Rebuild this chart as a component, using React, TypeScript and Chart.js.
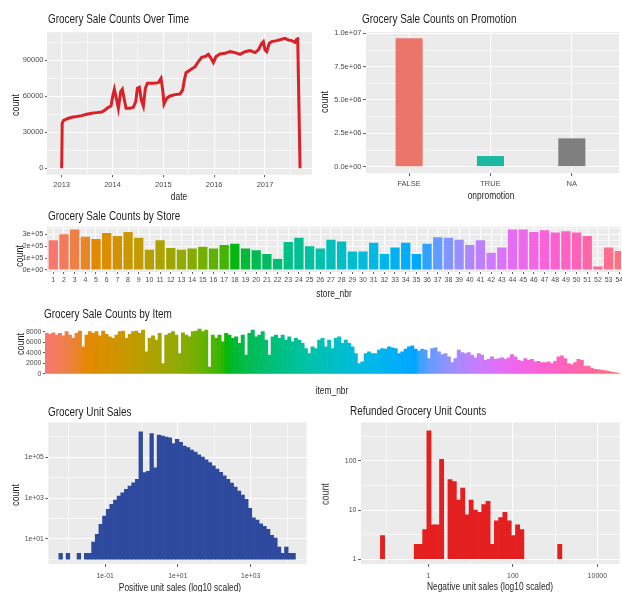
import React, { useEffect, useRef } from 'react';
import { Chart, registerables } from 'chart.js';

Chart.register(...registerables);

const FONT = "'Liberation Sans', Arial, Helvetica, sans-serif";
const TICK_COLOR = '#4D4D4D';
const PANEL_BG = '#EBEBEB';

// ---------------- data ----------------
// Panel 1: sale counts over time (decimal years)
const salesDates = [
  2013.0, 2013.01, 2013.033, 2013.098, 2013.197, 2013.295, 2013.393, 2013.492, 2013.59, 2013.689,
  2013.787, 2013.852, 2013.918, 2013.97, 2014.003, 2014.036, 2014.082, 2014.115, 2014.161, 2014.193,
  2014.233, 2014.266, 2014.344, 2014.41, 2014.456, 2014.489, 2014.528, 2014.567, 2014.607, 2014.646,
  2014.685, 2014.803, 2014.902, 2014.954, 2014.987, 2015.013, 2015.066, 2015.131, 2015.23, 2015.328,
  2015.38, 2015.413, 2015.446, 2015.525, 2015.623, 2015.689, 2015.754, 2015.82, 2015.885, 2015.938,
  2015.984, 2016.036, 2016.115, 2016.213, 2016.311, 2016.41, 2016.508, 2016.607, 2016.705, 2016.803,
  2016.869, 2016.934, 2016.967, 2017.0, 2017.033, 2017.085, 2017.131, 2017.23, 2017.328, 2017.393,
  2017.459, 2017.525, 2017.59, 2017.623, 2017.643, 2017.689,
];
const salesCounts = [
  0, 37500, 39700, 41100, 42500, 43100, 43900, 45000, 45800, 46400,
  46900, 48600, 50800, 51900, 59700, 65800, 56900, 50000, 63900, 65800,
  56900, 50000, 50000, 50800, 55600, 66700, 67500, 56900, 51900, 66700,
  70800, 70800, 71400, 75000, 65300, 53600, 58300, 60300, 61400, 61900,
  65300, 73600, 79700, 81900, 84700, 88900, 92500, 93100, 95000, 91700,
  88100, 93100, 95300, 95800, 97200, 96400, 95000, 97200, 98100, 96400,
  98600, 104200, 105600, 98600, 97200, 104200, 105600, 106400, 107500, 108300,
  106900, 106400, 105000, 107500, 107800, 0,
];
const yearTicks = [2013, 2014, 2015, 2016, 2017];
const yearMinor = [2013.5, 2014.5, 2015.5, 2016.5, 2017.5];
const salesYTicks = [0, 30000, 60000, 90000];
const salesYMinor = [15000, 45000, 75000, 105000];

// Panel 2: promotion
const promoCategories = ['FALSE', 'TRUE', 'NA'];
const promoCounts = [9625000, 800000, 2125000];
const promoColors = ['#EC756A', '#1CB8A2', '#7F7F7F'];
const promoYTicks = [0, 2500000, 5000000, 7500000, 10000000];
const promoYMinor = [1250000, 3750000, 6250000, 8750000];

// Panel 3: stores
const storeNumbers = [
  1, 2, 3, 4, 5, 6, 7, 8, 9, 10, 11, 12, 13, 14, 15, 16, 17, 18, 19, 20, 21, 22, 23, 24, 25, 26, 27,
  28, 29, 30, 31, 32, 33, 34, 35, 36, 37, 38, 39, 40, 41, 42, 43, 44, 45, 46, 47, 48, 49, 50, 51, 52, 53, 54,
];
const storeCounts = [
  250000, 300000, 340000, 280000, 260000, 310000, 285000, 320000, 270000, 170000,
  250000, 185000, 170000, 180000, 195000, 180000, 210000, 220000, 180000, 165000,
  135000, 95000, 235000, 270000, 200000, 180000, 255000, 240000, 155000, 155000,
  230000, 135000, 190000, 230000, 135000, 220000, 275000, 270000, 255000, 210000,
  250000, 145000, 190000, 340000, 340000, 320000, 335000, 315000, 325000, 315000,
  285000, 30000, 190000, 160000,
];
const storeYTicks = [0, 100000, 200000, 300000];
const storeYMinor = [50000, 150000, 250000, 350000];

// Panel 4: items (in item order, left to right)
const itemCounts = [
  7680, 7490, 7810, 7370, 7680, 7240, 8000, 7370, 6730, 7680,
  8130, 5140, 7370, 8000, 7680, 8000, 7240, 8130, 7490, 7050,
  6730, 7370, 8000, 8130, 6730, 7490, 8000, 8130, 7680, 8320,
  4190, 6730, 7240, 6410, 7680, 1970, 7370, 7680, 8000, 7370,
  3870, 7810, 7370, 7050, 8000, 8130, 8510, 8000, 8320, 1330,
  7370, 6730, 7370, 6100, 7680, 7370, 6730, 7050, 5780, 7370,
  3560, 7680, 8320, 7050, 7370, 8000, 6410, 3560, 7050, 7370,
  6730, 7370, 6410, 7050, 6100, 6730, 6410, 5780, 4830, 3870,
  5140, 4830, 6410, 6730, 5140, 6410, 4830,
  6730, 7050, 5780, 6410, 5780, 5140, 3870, 1970, 2290, 3870,
  4190, 3870, 3870, 4510, 4830, 4700, 5140, 4950, 4830, 3870,
  4190, 4700, 5140, 5330, 4700, 4320, 4700, 4510, 2920, 4830,
  4950, 4190, 3680, 3870, 3240, 2160, 2920, 4510, 4060, 3870,
  4060, 3560, 3050, 3870, 3560, 2600, 2790, 3240, 2790, 2920,
  3050, 2790, 3050, 3680, 3240, 2600, 2410, 2920, 2600, 2790,
  2290, 2410, 2160, 2160, 2290, 1970, 2410, 3240, 3430, 2920,
  1970, 1780, 2160, 2790, 2600, 1520, 1520, 1140, 890, 830,
  760, 640, 510, 380, 250, 130,
];
const itemYTicks = [0, 2000, 4000, 6000, 8000];

// Panel 5: positive unit sales histogram (log10 bins)
const unitBinStart = -2.27;
const unitBinWidth = 0.1;
const unitCounts = [
  2, null, 2, null, null, 2, null, 2, 2, 7,
  17, 52, 133, 283, 500, 810, 1270, 1850, 2700, 3900,
  5700, 8500, 1800000, 17800, 21000, 1450000, 31000, 1230000, 1100000, 1000000,
  920000, 470000, 770000, 550000, 360000, 300000, 230000, 180000, 135000, 105000,
  77000, 55000, 39000, 27000, 18400, 12600, 8300, 5500, 3500, 2240,
  1420, 870, 316, 110, 85, 56, 42, 30, 15, 11,
  4, 2, 4, 2, 2,
];
const unitXTicks = [-1, 1, 3];
const unitXMinor = [-2, 0, 2, 4];
const unitYTicks = [10, 1000, 100000];
const unitYMinor = [1, 100, 10000, 1000000];

// Panel 6: refunded unit counts histogram (log10 bins)
const refundBinStart = -1.14;
const refundBinWidth = 0.1;
const refundCounts = [
  3, null, null, null, null, null, null, null, 2, 2,
  4, 415, 5, 5, 108, null, 42, 38, 16, 28,
  8, 16, 10, 9, 13, 15, 2, 6, 7, 9,
  6, 3, 5, 4, null, null, null, null, null, null,
  null, null, 2,
];
const refundXTicks = [0, 2, 4];
const refundXMinor = [-1, 1, 3];
const refundYTicks = [1, 10, 100];
const refundYMinor = [3.1623, 31.623, 316.23];

// ---------------- helpers ----------------
function hclHex(h: number, c = 100, l = 65): string {
  const hr = (h * Math.PI) / 180;
  const u = c * Math.cos(hr);
  const v = c * Math.sin(hr);
  const Xn = 95.047, Yn = 100, Zn = 108.883;
  const den = Xn + 15 * Yn + 3 * Zn;
  const un = (4 * Xn) / den;
  const vn = (9 * Yn) / den;
  const Y = Yn * Math.pow((l + 16) / 116, 3);
  const up = u / (13 * l) + un;
  const vp = v / (13 * l) + vn;
  const X = (Y * 9 * up) / (4 * vp);
  const Z = (Y * (12 - 3 * up - 20 * vp)) / (4 * vp);
  const x = X / 100, y = Y / 100, z = Z / 100;
  const lin = [
    3.2406 * x - 1.5372 * y - 0.4986 * z,
    -0.9689 * x + 1.8758 * y + 0.0415 * z,
    0.0557 * x - 0.204 * y + 1.057 * z,
  ];
  return (
    '#' +
    lin
      .map((ch) => {
        let g = ch <= 0.0031308 ? 12.92 * ch : 1.055 * Math.pow(Math.max(ch, 0), 1 / 2.4) - 0.055;
        g = Math.min(1, Math.max(0, g));
        return Math.round(g * 255).toString(16).padStart(2, '0');
      })
      .join('')
  );
}
function huePalette(n: number): string[] {
  const out: string[] = [];
  for (let i = 0; i < n; i++) out.push(hclHex(15 + (360 * i) / n));
  return out;
}
function sci(v: number, digits: number): string {
  const [m, e] = v.toExponential(digits).split('e');
  const sign = e[0];
  return m + 'e' + sign + e.slice(1).padStart(2, '0');
}
function pow10Label(v: number): string {
  const e = Math.round(v);
  return '1e' + (e < 0 ? '-' : '+') + String(Math.abs(e)).padStart(2, '0');
}

const panelBg = {
  id: 'panelBg',
  beforeDraw(chart: any, _args: any, opts: any) {
    if (!opts || !opts.color) return;
    const a = chart.chartArea;
    const ctx = chart.ctx;
    ctx.save();
    ctx.fillStyle = opts.color;
    ctx.fillRect(a.left, a.top, a.right - a.left, a.bottom - a.top);
    ctx.restore();
  },
};

function axis(o: any) {
  const majors: number[] = o.majors;
  const all = [...majors, ...(o.minors || [])].sort((a, b) => a - b);
  const isMajor = (v: any) => majors.indexOf(v) >= 0;
  return {
    type: o.type || 'linear',
    min: o.min,
    max: o.max,
    offset: false,
    afterBuildTicks: (s: any) => {
      s.ticks = all.map((v) => ({ value: v }));
    },
    afterFit: (s: any) => {
      if (o.isY) s.width = o.size;
      else s.height = o.size;
    },
    ticks: {
      autoSkip: false,
      maxRotation: 0,
      minRotation: 0,
      padding: o.pad,
      color: TICK_COLOR,
      font: { family: FONT, size: o.font },
      callback: (v: any) => (isMajor(v) ? o.fmt(v) : ''),
    },
    grid: {
      display: true,
      offset: false,
      drawOnChartArea: o.gridOnArea !== false,
      color: '#FFFFFF',
      lineWidth: (c: any) => (c.tick && isMajor(c.tick.value) ? 1.1 : 0.55),
      drawTicks: true,
      tickLength: o.tickLen,
      tickColor: (c: any) => (c.tick && isMajor(c.tick.value) ? '#333333' : 'rgba(0,0,0,0)'),
      tickWidth: 0.8,
    },
    border: { display: false },
  };
}

function baseOptions(scales: any, bg: string | null) {
  return {
    animation: false,
    responsive: false,
    devicePixelRatio: 1,
    events: [],
    plugins: {
      legend: { display: false },
      tooltip: { enabled: false },
      title: { display: false },
      panelBg: { color: bg },
    },
    scales,
  };
}

type Rect = { l: number; t: number; r: number; b: number };

function PanelChart({ rect, yw, xh, build }: { rect: Rect; yw: number; xh: number; build: (s: { yw: number; xh: number }) => any }) {
  const ref = useRef<HTMLCanvasElement | null>(null);
  const left = Math.floor(rect.l - yw - 2);
  const top = Math.floor(rect.t - 7);
  const right = Math.ceil(rect.r + 10);
  const bottom = Math.ceil(rect.b + xh);
  const width = right - left;
  const height = bottom - top;
  const padL = rect.l - yw - left;
  const padT = rect.t - top;
  const padR = right - rect.r;
  const xhFit = bottom - rect.b;
  useEffect(() => {
    const cfg = build({ yw, xh: xhFit });
    cfg.options.layout = { padding: { left: padL, top: padT, right: padR, bottom: 0 } };
    cfg.plugins = [panelBg];
    const chart = new Chart(ref.current as HTMLCanvasElement, cfg);
    return () => chart.destroy();
  }, []);
  return (
    <canvas
      ref={ref}
      width={width}
      height={height}
      style={{ position: 'absolute', left, top, width, height }}
    />
  );
}

const TEXT_COLOR = '#1F1F1F';

function Title({ x, y, text }: { x: number; y: number; text: string }) {
  return (
    <div
      style={{
        position: 'absolute', left: x, top: y - 7.2, fontSize: 12, lineHeight: '14.4px',
        whiteSpace: 'nowrap', color: TEXT_COLOR, transform: 'scaleX(0.83)', transformOrigin: '0 50%',
      }}
    >
      {text}
    </div>
  );
}
function XTitle({ x, y, text }: { x: number; y: number; text: string }) {
  return (
    <div
      style={{
        position: 'absolute', left: x, top: y - 6.3, fontSize: 10.5, lineHeight: '12.6px',
        whiteSpace: 'nowrap', color: TEXT_COLOR, transform: 'translateX(-50%) scaleX(0.8)',
      }}
    >
      {text}
    </div>
  );
}
function YTitle({ x, y, text }: { x: number; y: number; text: string }) {
  return (
    <div
      style={{
        position: 'absolute', left: x, top: y, fontSize: 10.5, lineHeight: '12.6px',
        whiteSpace: 'nowrap', color: TEXT_COLOR,
        transform: 'translate(-50%, -50%) rotate(-90deg) scaleX(0.85)',
      }}
    >
      {text}
    </div>
  );
}

// ---------------- app ----------------
export default function App() {
  const YW = 42;
  return (
    <div
      style={{
        position: 'fixed', left: 0, top: 0, width: 622, height: 592, overflow: 'hidden',
        background: '#FFFFFF', fontFamily: FONT,
      }}
    >
      {/* Panel 1 */}
      <PanelChart
        rect={{ l: 47, t: 32.2, r: 312, b: 174.8 }}
        yw={YW}
        xh={16}
        build={({ yw, xh }) => ({
          type: 'line',
          data: {
            datasets: [
              {
                data: salesDates.map((d, i) => ({ x: d, y: salesCounts[i] })),
                borderColor: '#DA2128',
                borderWidth: 3,
                pointRadius: 0,
                tension: 0,
                fill: false,
              },
            ],
          },
          options: baseOptions(
            {
              x: axis({ min: 2012.711, max: 2017.924, majors: yearTicks, minors: yearMinor, fmt: (v: number) => String(v), font: 7.5, tickLen: 2.5, pad: 3.5, isY: false, size: xh }),
              y: axis({ min: -5417, max: 113417, majors: salesYTicks, minors: salesYMinor, fmt: (v: number) => String(v), font: 7.5, tickLen: 2, pad: 1.5, isY: true, size: yw }),
            },
            PANEL_BG
          ),
        })}
      />
      {/* Panel 2 */}
      <PanelChart
        rect={{ l: 366, t: 32, r: 619, b: 173.1 }}
        yw={YW}
        xh={16}
        build={({ yw, xh }) => ({
          type: 'bar',
          data: {
            datasets: [
              {
                data: promoCategories.map((_, i) => ({ x: i + 1, y: promoCounts[i] })),
                backgroundColor: promoColors,
                borderWidth: 0,
                barPercentage: 0.333,
                categoryPercentage: 1,
              },
            ],
          },
          options: baseOptions(
            {
              x: axis({ min: 0.47, max: 3.58, majors: [1, 2, 3], fmt: (v: number) => promoCategories[v - 1], font: 7.5, tickLen: 3, pad: 3.5, isY: false, size: xh }),
              y: axis({ min: -480000, max: 10100000, majors: promoYTicks, minors: promoYMinor, fmt: (v: number) => sci(v, 1), font: 7.5, tickLen: 3, pad: 1.5, isY: true, size: yw }),
            },
            PANEL_BG
          ),
        })}
      />
      {/* Panel 3 */}
      <PanelChart
        rect={{ l: 47, t: 226.7, r: 621, b: 272 }}
        yw={YW}
        xh={14}
        build={({ yw, xh }) => ({
          type: 'bar',
          data: {
            datasets: [
              {
                data: storeNumbers.map((s, i) => ({ x: s, y: storeCounts[i] })),
                backgroundColor: huePalette(storeNumbers.length),
                borderWidth: 0,
                barPercentage: 0.87,
                categoryPercentage: 1,
              },
            ],
          },
          options: baseOptions(
            {
              x: axis({ min: 0.41, max: 54.16, majors: storeNumbers, fmt: (v: number) => String(v), font: 7, tickLen: 2, pad: 2, isY: false, size: xh }),
              y: axis({ min: -16800, max: 363900, majors: storeYTicks, minors: storeYMinor, fmt: (v: number) => sci(v, 0), font: 7.5, tickLen: 2, pad: 1.5, isY: true, size: yw }),
            },
            PANEL_BG
          ),
        })}
      />
      {/* Panel 4 */}
      <PanelChart
        rect={{ l: 45, t: 327, r: 620, b: 376.4 }}
        yw={YW}
        xh={6}
        build={({ yw, xh }) => ({
          type: 'bar',
          data: {
            labels: itemCounts.map((_, i) => String(i + 1)),
            datasets: [
              {
                data: itemCounts,
                backgroundColor: huePalette(itemCounts.length),
                borderWidth: 0,
                barPercentage: 1,
                categoryPercentage: 1,
              },
            ],
          },
          options: baseOptions(
            {
              x: {
                type: 'category',
                offset: true,
                grid: { display: false },
                ticks: { display: false },
                border: { display: false },
                afterFit: (s: any) => {
                  s.height = xh;
                },
              },
              y: axis({ min: -454, max: 8889, majors: itemYTicks, fmt: (v: number) => String(v), font: 7, tickLen: 2, pad: 1.5, isY: true, size: yw, gridOnArea: false }),
            },
            null
          ),
        })}
      />
      {/* Panel 5 */}
      <PanelChart
        rect={{ l: 48.3, t: 422.5, r: 306.7, b: 564 }}
        yw={YW}
        xh={18}
        build={({ yw, xh }) => ({
          type: 'bar',
          data: {
            datasets: [
              {
                data: unitCounts.map((c, i) => ({ x: unitBinStart + unitBinWidth * (i + 0.5), y: c })),
                backgroundColor: '#2E4A9E',
                borderWidth: 0,
                barPercentage: 1,
                categoryPercentage: 1,
                base: 1,
              },
            ],
          },
          options: baseOptions(
            {
              x: axis({ min: -2.56, max: 4.54, majors: unitXTicks, minors: unitXMinor, fmt: pow10Label, font: 6.8, tickLen: 3, pad: 5, isY: false, size: xh }),
              y: axis({ type: 'logarithmic', min: Math.pow(10, -0.225), max: Math.pow(10, 6.71), majors: unitYTicks, minors: unitYMinor, fmt: (v: number) => pow10Label(Math.log10(v)), font: 6.8, tickLen: 3, pad: 1.5, isY: true, size: yw }),
            },
            PANEL_BG
          ),
        })}
      />
      {/* Panel 6 */}
      <PanelChart
        rect={{ l: 361, t: 422.5, r: 619.7, b: 564 }}
        yw={YW}
        xh={18}
        build={({ yw, xh }) => ({
          type: 'bar',
          data: {
            datasets: [
              {
                data: refundCounts.map((c, i) => ({ x: refundBinStart + refundBinWidth * (i + 0.5), y: c })),
                backgroundColor: '#E41F1F',
                borderWidth: 0,
                barPercentage: 1,
                categoryPercentage: 1,
                base: 1,
              },
            ],
          },
          options: baseOptions(
            {
              x: axis({ min: -1.6, max: 4.53, majors: refundXTicks, minors: refundXMinor, fmt: (v: number) => String(Math.round(Math.pow(10, v))), font: 7, tickLen: 3, pad: 5, isY: false, size: xh }),
              y: axis({ type: 'logarithmic', min: Math.pow(10, -0.1), max: Math.pow(10, 2.786), majors: refundYTicks, minors: refundYMinor, fmt: (v: number) => String(v), font: 7, tickLen: 3, pad: 1.5, isY: true, size: yw }),
            },
            PANEL_BG
          ),
        })}
      />

      <Title x={48} y={19.5} text="Grocery Sale Counts Over Time" />
      <Title x={361.5} y={19.5} text="Grocery Sale Counts on Promotion" />
      <Title x={48} y={215.7} text="Grocery Sale Counts by Store" />
      <Title x={43.5} y={314} text="Grocery Sale Counts by Item" />
      <Title x={48} y={411.7} text="Grocery Unit Sales" />
      <Title x={349.5} y={411} text="Refunded Grocery Unit Counts" />

      <XTitle x={179} y={196} text="date" />
      <XTitle x={491} y={195} text="onpromotion" />
      <XTitle x={333.5} y={293.5} text="store_nbr" />
      <XTitle x={332} y={390.5} text="item_nbr" />
      <XTitle x={180} y={587.5} text="Positive unit sales (log10 scaled)" />
      <XTitle x={490} y={586.7} text="Negative unit sales (log10 scaled)" />

      <YTitle x={15} y={105} text="count" />
      <YTitle x={324} y={101.5} text="count" />
      <YTitle x={19} y={256} text="count" />
      <YTitle x={20} y={344} text="count" />
      <YTitle x={15} y={495} text="count" />
      <YTitle x={324.5} y={494} text="count" />
    </div>
  );
}
